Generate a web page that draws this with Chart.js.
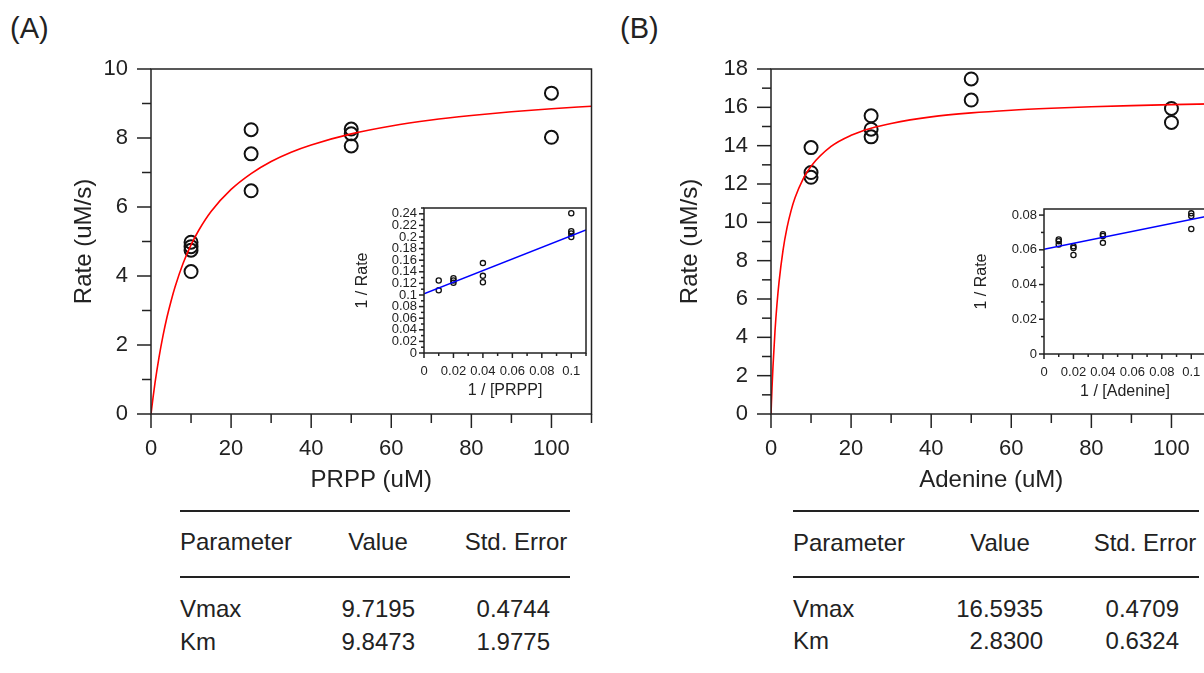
<!DOCTYPE html>
<html>
<head>
<meta charset="utf-8">
<script src="https://cdn.jsdelivr.net/npm/chart.js@4.4.1/dist/chart.umd.min.js"></script>
<style>
  html, body { margin: 0; padding: 0; background: #fff; }
  body { width: 1204px; height: 673px; overflow: hidden; position: relative;
         font-family: "Liberation Sans", Arial, sans-serif; color: #222; }
  canvas { position: absolute; }
  .txt { position: absolute; white-space: nowrap; font-size: 24px; line-height: 24px; }
  .lbl { position: absolute; font-size: 29px; line-height: 29px; }
  .rule { position: absolute; height: 0; border-top: 2px solid #222; }
</style>
</head>
<body>

<div class="lbl" style="left:10px; top:14px;">(A)</div>
<div class="lbl" style="left:620px; top:14px;">(B)</div>

<canvas id="mainA" width="600" height="500" style="left:0; top:0;"></canvas>
<canvas id="insetA" width="272" height="205" style="left:324px; top:198px;"></canvas>
<canvas id="mainB" width="600" height="500" style="left:620px; top:0;"></canvas>
<canvas id="insetB" width="272" height="205" style="left:944px; top:199px;"></canvas>

<!-- parameter tables -->
<div class="rule" style="left:180px; top:510px; width:390px;"></div>
<div class="rule" style="left:180px; top:576px; width:390px;"></div>
<div class="txt" style="left:180px; top:530px;">Parameter</div>
<div class="txt" style="left:378px; top:530px; transform:translateX(-50%);">Value</div>
<div class="txt" style="left:516px; top:530px; transform:translateX(-50%);">Std. Error</div>
<div class="txt" style="left:180px; top:597px;">Vmax</div>
<div class="txt" style="left:180px; top:630px;">Km</div>
<div class="txt" style="right:789px; top:597px;">9.7195</div>
<div class="txt" style="right:789px; top:630px;">9.8473</div>
<div class="txt" style="right:654px; top:597px;">0.4744</div>
<div class="txt" style="right:654px; top:630px;">1.9775</div>

<div class="rule" style="left:793px; top:510px; width:406px;"></div>
<div class="rule" style="left:793px; top:576px; width:406px;"></div>
<div class="txt" style="left:793px; top:531px;">Parameter</div>
<div class="txt" style="left:1000px; top:531px; transform:translateX(-50%);">Value</div>
<div class="txt" style="left:1145px; top:531px; transform:translateX(-50%);">Std. Error</div>
<div class="txt" style="left:793px; top:597px;">Vmax</div>
<div class="txt" style="left:793px; top:629px;">Km</div>
<div class="txt" style="right:161px; top:597px;">16.5935</div>
<div class="txt" style="right:161px; top:629px;">2.8300</div>
<div class="txt" style="right:25px; top:597px;">0.4709</div>
<div class="txt" style="right:25px; top:629px;">0.6324</div>

<script>
// ---- data ----
// (A) PRPP
const prppConc = [10, 10, 10, 10, 25, 25, 25, 50, 50, 50, 100, 100];
const prppRate = [4.98, 4.85, 4.75, 4.13, 8.24, 7.54, 6.47, 8.26, 8.12, 7.77, 9.30, 8.02];
const prppFitX = [0, 0.5, 1, 2, 3, 4, 5, 6, 8, 10, 12, 15, 20, 25, 30, 35, 40, 50, 60, 70, 80, 90, 100, 110];
const prppFitY = [0, 0.47, 0.90, 1.64, 2.27, 2.81, 3.27, 3.68, 4.36, 4.90, 5.34, 5.87, 6.51, 6.97, 7.32, 7.59, 7.80, 8.12, 8.35, 8.52, 8.65, 8.76, 8.85, 8.92];
const prppInvX = [0.01, 0.01, 0.02, 0.02, 0.02, 0.04, 0.04, 0.04, 0.1, 0.1, 0.1, 0.1];
const prppInvY = [0.125, 0.108, 0.129, 0.125, 0.121, 0.155, 0.133, 0.122, 0.241, 0.210, 0.206, 0.200];
const prppLineX = [0, 0.11];
const prppLineY = [0.102, 0.212];

// (B) Adenine
const adenineConc = [10, 10, 10, 25, 25, 25, 50, 50, 100, 100];
const adenineRate = [13.90, 12.60, 12.35, 15.56, 14.86, 14.46, 17.48, 16.38, 15.94, 15.21];
const adenineFitX = [0, 0.25, 0.5, 1, 1.5, 2, 3, 4, 5, 6, 8, 10, 15, 20, 25, 30, 40, 50, 60, 70, 80, 90, 100, 110];
const adenineFitY = [0, 1.35, 2.49, 4.33, 5.75, 6.87, 8.54, 9.72, 10.60, 11.28, 12.26, 12.93, 13.96, 14.54, 14.91, 15.16, 15.50, 15.71, 15.85, 15.95, 16.03, 16.09, 16.14, 16.18];
const adenineInvX = [0.01, 0.01, 0.01, 0.02, 0.02, 0.02, 0.04, 0.04, 0.04, 0.1, 0.1, 0.1];
const adenineInvY = [0.066, 0.065, 0.063, 0.062, 0.061, 0.057, 0.069, 0.068, 0.064, 0.081, 0.0795, 0.072];
const adenineLineX = [0, 0.11];
const adenineLineY = [0.0603, 0.0792];

const INK = '#222';
const FONT = '"Liberation Sans", Arial, sans-serif';

const pts = (xs, ys) => xs.map((x, i) => ({ x: x, y: ys[i] }));
const isMult = (v, step) => Math.abs(v / step - Math.round(v / step)) < 1e-6;

// frame + outside tick marks (major / minor)
const axisBox = {
    id: 'axisBox',
    afterDatasetsDraw(chart, args, opts) {
        const ctx = chart.ctx;
        const a = chart.chartArea;
        ctx.save();
        ctx.strokeStyle = INK;
        ctx.lineWidth = opts.width;
        ctx.strokeRect(a.left, a.top, a.right - a.left, a.bottom - a.top);
        ['x', 'y'].forEach(id => {
            const s = chart.scales[id];
            s.ticks.forEach(t => {
                const len = isMult(t.value, opts.every[id]) ? opts.major : opts.minor;
                const p = s.getPixelForValue(t.value);
                ctx.beginPath();
                if (id === 'x') { ctx.moveTo(p, a.bottom); ctx.lineTo(p, a.bottom + len); }
                else { ctx.moveTo(a.left, p); ctx.lineTo(a.left - len, p); }
                ctx.stroke();
            });
        });
        ctx.restore();
    }
};

function tickOpts(step, every, size, pad, fmt) {
    return {
        stepSize: step, includeBounds: false, padding: pad,
        autoSkip: false, maxRotation: 0, minRotation: 0,
        color: INK, font: { family: FONT, size: size },
        callback: v => isMult(v, every) ? fmt(v) : ''
    };
}

// fixed axis box sizes, no extra label overhang padding
const fixX = h => s => { s.height = h; s.paddingLeft = 0; s.paddingRight = 0; };
const fixY = w => s => { s.width = w; s.paddingTop = 0; s.paddingBottom = 0; };

function mainChart(id, conc, rate, fitX, fitY, yMax, xTitle, yTitlePad) {
    return new Chart(document.getElementById(id), {
        type: 'scatter',
        data: {
            datasets: [{
                data: pts(fitX, fitY),
                showLine: true,
                borderColor: '#ff0000',
                borderWidth: 1.6,
                pointRadius: 0,
                cubicInterpolationMode: 'monotone'
            }, {
                data: pts(conc, rate),
                pointRadius: 6.5,
                pointBorderWidth: 2,
                borderColor: '#111',
                backgroundColor: 'rgba(0,0,0,0)'
            }]
        },
        plugins: [axisBox],
        options: {
            responsive: false,
            animation: false,
            layout: { padding: { top: 69, right: 4, left: 0, bottom: 0 } },
            plugins: {
                legend: { display: false },
                tooltip: { enabled: false },
                axisBox: { width: 1.5, major: 14, minor: 9, every: { x: 20, y: 2 } }
            },
            scales: {
                x: {
                    min: 0, max: 110,
                    grid: { display: false, drawTicks: false },
                    border: { display: false },
                    ticks: tickOpts(10, 20, 22, 22, v => String(v)),
                    title: { display: true, text: xTitle, color: INK,
                             font: { family: FONT, size: 24 }, padding: { top: 0, bottom: 5 } },
                    afterFit: fixX(86)
                },
                y: {
                    min: 0, max: yMax,
                    grid: { display: false, drawTicks: false },
                    border: { display: false },
                    ticks: tickOpts(1, 2, 22, 23, v => String(v)),
                    title: { display: true, text: 'Rate (uM/s)', color: INK,
                             font: { family: FONT, size: 24 }, padding: { top: yTitlePad, bottom: 0 } },
                    afterFit: fixY(151)
                }
            }
        }
    });
}

function insetChart(id, invX, invY, lineX, lineY, yMax, xTitle, yTitlePad) {
    const fmt = v => String(Number(v.toFixed(2)));
    return new Chart(document.getElementById(id), {
        type: 'scatter',
        data: {
            datasets: [{
                data: pts(lineX, lineY),
                showLine: true,
                borderColor: '#0000ff',
                borderWidth: 1.5,
                pointRadius: 0
            }, {
                data: pts(invX, invY),
                pointRadius: 2.6,
                pointBorderWidth: 1.3,
                borderColor: '#111',
                backgroundColor: 'rgba(0,0,0,0)'
            }]
        },
        plugins: [axisBox],
        options: {
            responsive: false,
            animation: false,
            layout: { padding: { top: 10, right: 10, left: 0, bottom: 0 } },
            plugins: {
                legend: { display: false },
                tooltip: { enabled: false },
                axisBox: { width: 1.5, major: 5, minor: 3, every: { x: 0.02, y: 0.02 } }
            },
            scales: {
                x: {
                    min: 0, max: 0.11,
                    grid: { display: false, drawTicks: false },
                    border: { display: false },
                    ticks: tickOpts(0.01, 0.02, 13, 11, fmt),
                    title: { display: true, text: xTitle, color: INK,
                             font: { family: FONT, size: 16 }, padding: { top: 0, bottom: 3 } },
                    afterFit: fixX(50)
                },
                y: {
                    min: 0, max: yMax,
                    grid: { display: false, drawTicks: false },
                    border: { display: false },
                    ticks: tickOpts(0.01, 0.02, 13, 7, fmt),
                    title: { display: true, text: '1 / Rate', color: INK,
                             font: { family: FONT, size: 16 }, padding: { top: yTitlePad, bottom: 0 } },
                    afterFit: fixY(100)
                }
            }
        }
    });
}

mainChart('mainA', prppConc, prppRate, prppFitX, prppFitY, 10, 'PRPP (uM)', 70);
mainChart('mainB', adenineConc, adenineRate, adenineFitX, adenineFitY, 18, 'Adenine (uM)', 56);
insetChart('insetA', prppInvX, prppInvY, prppLineX, prppLineY, 0.25, '1 / [PRPP]', 29);
insetChart('insetB', adenineInvX, adenineInvY, adenineLineX, adenineLineY, 0.0835, '1 / [Adenine]', 28);
</script>
</body>
</html>
